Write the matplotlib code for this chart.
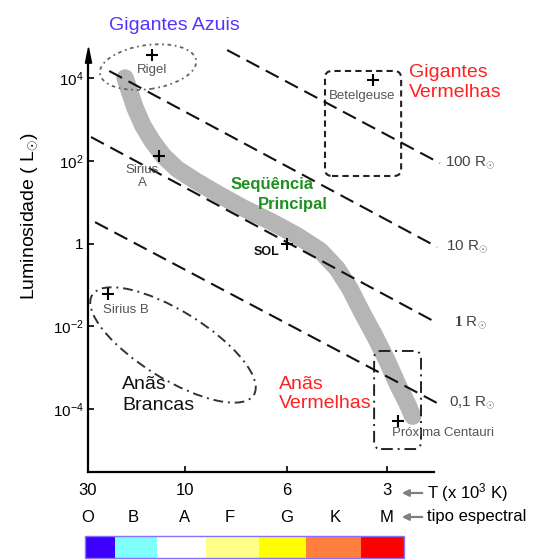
import numpy as np
import matplotlib
matplotlib.use("Agg")
import matplotlib.pyplot as plt
from matplotlib import transforms
from matplotlib.patches import Ellipse, FancyBboxPatch, Rectangle
from matplotlib.ticker import NullLocator

plt.rcParams["font.family"] = ["Liberation Sans", "DejaVu Sans"]
plt.rcParams["mathtext.fontset"] = "custom"
plt.rcParams["mathtext.rm"] = "Liberation Sans"
plt.rcParams["mathtext.it"] = "Liberation Sans:italic"
plt.rcParams["mathtext.bf"] = "Liberation Serif:bold"
plt.rcParams["mathtext.fallback"] = "cm"

# ---------------------------------------------------------------- data
# temperatures in 10^3 K, luminosities in solar units
ms_temp = [19.7, 18.65, 17.6, 16.1, 14.5, 12.8, 10.95, 9.5, 8.5, 7.5, 6.5,
           5.6, 4.77, 4.24, 3.88, 3.57, 3.26, 3.0, 2.78, 2.61, 2.51]
ms_lum = [1.0e4, 4.4e3, 1.9e3, 700, 300, 132, 64, 33, 16, 7.4, 3.4,
          1.56, 0.68, 0.25, 0.082, 0.022, 5.7e-3, 1.5e-3, 3.8e-4, 1.4e-4, 6.8e-5]

radius_labels = [r"100 R$_{\odot}$", r"10 R$_{\odot}$", r"$\mathbf{1}$ R$_{\odot}$",
                 r"0,1 R$_{\odot}$"]
radius_temp = [(8.1, 2.08), (23.6, 2.12), (29.0, 2.12), (27.7, 2.12)]
radius_lum = [(4.75e4, 88.0), (1.48e4, 0.83), (376.0, 0.0121), (3.3, 1.41e-4)]

star_names = ["Rigel", "Sirius\nA", "SOL", "Betelgeuse", "Sirius B", "Próxima Centauri"]
star_temp = [14.5, 13.4, 6.0, 3.31, 23.9, 2.78]
star_lum = [3.6e4, 130.0, 1.0, 9.0e3, 0.06, 5.2e-5]

temp_ticks = [30, 10, 6, 3]
lum_ticks = [1e4, 1e2, 1, 1e-2, 1e-4]
lum_tick_labels = [r"$10^4$", r"$10^2$", "1", r"$10^{-2}$", r"$10^{-4}$"]

spectral_types = ["O", "B", "A", "F", "G", "K", "M"]
spectral_temp = [30, 18, 10, 8, 6, 4.3, 3]
color_edges = [31.0, 22.0, 13.7, 9.0, 6.9, 5.25, 3.6, 2.67]
color_cells = ["#3c00ff", "#80ffff", "#ffffff", "#ffff88", "#ffff00", "#ff7f3f", "#ff0000"]

# regions: Rigel (blue giants), white dwarfs, Betelgeuse box, Proxima box
rigel_region = (15.2, 1.84e4)
dwarf_region = (11.46, 3.56e-3)
betel_box_temp, betel_box_lum = (4.61, 2.72), (1.48e4, 43.0)
proxima_box_temp, proxima_box_lum = (3.28, 2.37), (2.55e-3, 1.09e-5)

# ---------------------------------------------------------------- schematic temperature scale
# log10(T) knots (T = 1, 3, 6, 10, 30, 60) and their axis positions
LOGT_KNOTS = np.array([0.0, 0.477, 0.778, 1.0, 1.477, 1.778])
POS_KNOTS = np.array([-457.5, -299.0, -199.0, -97.0, 0.0, 61.2])


def t_forward(t):
    t = np.clip(np.asarray(t, dtype=float), 1e-3, None)
    return np.interp(np.log10(t), LOGT_KNOTS, POS_KNOTS)


def t_inverse(p):
    return 10.0 ** np.interp(np.asarray(p, dtype=float), POS_KNOTS, LOGT_KNOTS)


W, H = 547, 560
fig = plt.figure(figsize=(W / 100, H / 100), dpi=100)
ax = fig.add_axes([88 / W, 1 - 472 / H, 346 / W, (472 - 54.5) / H])
ax.set_xscale("function", functions=(t_forward, t_inverse))
ax.set_yscale("log")
ax.set_xlim(30, 2.166)
ax.set_ylim(3.04e-6, 3.7e4)

for s in ("top", "right"):
    ax.spines[s].set_visible(False)
for s in ("left", "bottom"):
    ax.spines[s].set_linewidth(1.6)

ax.set_xticks(temp_ticks)
ax.set_xticklabels([str(t) for t in temp_ticks], fontsize=12)
ax.xaxis.set_minor_locator(NullLocator())
ax.set_yticks(lum_ticks)
ax.set_yticklabels(lum_tick_labels, fontsize=11)
ax.yaxis.set_minor_locator(NullLocator())
ax.tick_params(axis="x", direction="in", length=4, width=1.2, pad=8)
ax.tick_params(axis="y", direction="in", length=4.5, width=1.2, pad=3)

# arrow head on the luminosity axis
head = matplotlib.path.Path([(0, 1), (-0.4, -1), (0.4, -1), (0, 1)])
ax.plot([0], [1], marker=head, ms=11, color="k", transform=ax.transAxes, clip_on=False)

# main sequence band
ax.plot(ms_temp, ms_lum, color="#b5b5b5", lw=12.6, solid_capstyle="round",
        solid_joinstyle="round", zorder=1)

# constant radius lines
label_offsets = [3.6, 6.5, 12.0, 8.6]
for text, tt, ll, off in zip(radius_labels, radius_temp, radius_lum, label_offsets):
    ax.plot(tt, ll, color="#111111", lw=1.5, dashes=(7, 3.5), clip_on=False, zorder=3)
    ax.annotate(text, xy=(tt[1], ll[1]), xytext=(off, 0),
                textcoords="offset points", ha="left", va="center", fontsize=11,
                color="#444444", annotation_clip=False)

# stars
ax.plot(star_temp, star_lum, "+", color="k", ms=8, mew=1.5, ls="none", zorder=6,
        clip_on=False)
star_offsets = [(0, -10.8), (-12.2, -14.5), (-14.4, -5.8), (-7.9, -11.5), (-3.6, -11.5),
                (-4.3, -8.6)]
star_ha = ["center", "center", "center", "center", "left", "left"]
for name, t, l, off, ha in zip(star_names, star_temp, star_lum, star_offsets, star_ha):
    if name == "SOL":
        kw = dict(fontsize=9, fontweight="bold", color="#111111")
    else:
        kw = dict(fontsize=9.5, color="#555555")
    ax.annotate(name, xy=(t, l), xytext=off, textcoords="offset points", ha=ha,
                va="center", linespacing=1.15, annotation_clip=False, **kw)

# region outlines
def region_ellipse(center, w_in, h_in, angle, **kw):
    tr = fig.dpi_scale_trans + transforms.ScaledTranslation(center[0], center[1], ax.transData)
    ax.add_patch(Ellipse((0, 0), w_in, h_in, angle=angle, transform=tr, fill=False,
                         clip_on=False, **kw))


def region_box(temps, lums, **kw):
    x0, y0 = ax.transData.transform((temps[0], lums[0]))
    x1, y1 = ax.transData.transform((temps[1], lums[1]))
    ax.add_patch(FancyBboxPatch((min(x0, x1), min(y0, y1)), abs(x1 - x0), abs(y1 - y0),
                                boxstyle="round,pad=0,rounding_size=7",
                                transform=transforms.IdentityTransform(), fill=False,
                                clip_on=False, **kw))


region_ellipse(rigel_region, 0.97, 0.44, 8, ec="#666666", lw=1.3,
               linestyle=(0, (2, 2, 1, 2)))
region_ellipse(dwarf_region, 1.90, 0.68, -31.7, ec="#333333", lw=1.4,
               linestyle=(0, (5, 2.5, 1, 2.5)))
region_box(betel_box_temp, betel_box_lum, ec="#222222", lw=1.5, linestyle=(0, (3, 2)))
region_box(proxima_box_temp, proxima_box_lum, ec="#222222", lw=1.4,
           linestyle=(0, (6, 2.5, 1, 2.5)))

# spectral types and colour strip
blend = transforms.blended_transform_factory(ax.transData, ax.transAxes)
for sp, t in zip(spectral_types, spectral_temp):
    ax.text(t, (472 - 517) / 417.5, sp, transform=blend, ha="center", va="center",
            fontsize=12, clip_on=False)
strip_y0, strip_h = (472 - 558) / 417.5, 22 / 417.5
for t0, t1, c in zip(color_edges[:-1], color_edges[1:], color_cells):
    ax.add_patch(Rectangle((t0, strip_y0), t1 - t0, strip_h, transform=blend, fc=c,
                           ec="none", clip_on=False))
ax.add_patch(Rectangle((color_edges[0], strip_y0), color_edges[-1] - color_edges[0],
                       strip_h, transform=blend, fc="none", ec="#8a70ff", lw=1,
                       clip_on=False))

# axis captions
for y in (493, 517):
    fig.add_artist(matplotlib.patches.FancyArrowPatch(
        (425 / W, 1 - y / H), (399 / W, 1 - y / H), transform=fig.transFigure,
        arrowstyle="-|>", mutation_scale=10, color="#808080", lw=1.6))
fig.text(427 / W, 1 - 493 / H, r"T (x 10$^3$ K)", fontsize=12, ha="left", va="center")
fig.text(427 / W, 1 - 517 / H, "tipo espectral", fontsize=12, ha="left", va="center")
fig.text(30 / W, 1 - 216 / H, r"Luminosidade ( L$_{\odot}$)", rotation=90, fontsize=14,
         ha="center", va="center")

# region names
fig.text(174 / W, 1 - 26 / H, "Gigantes Azuis", fontsize=14, color="#5533ff",
         ha="center", va="center")
fig.text(409 / W, 1 - 82.5 / H, "Gigantes\nVermelhas", fontsize=14, color="#ff2020",
         ha="left", va="center", linespacing=1.2)
fig.text(272 / W, 1 - 185 / H, "Seqüência", fontsize=12, fontweight="bold",
         color="#1f8f1f", ha="center", va="center")
fig.text(293 / W, 1 - 205 / H, "Principal", fontsize=12, fontweight="bold",
         color="#1f8f1f", ha="center", va="center")
fig.text(122 / W, 1 - 395 / H, "Anãs\nBrancas", fontsize=14, color="#111111",
         ha="left", va="center", linespacing=1.24)
fig.text(279 / W, 1 - 394 / H, "Anãs\nVermelhas", fontsize=14, color="#ff2020",
         ha="left", va="center", linespacing=1.2)

fig.savefig("out.png", dpi=100)
